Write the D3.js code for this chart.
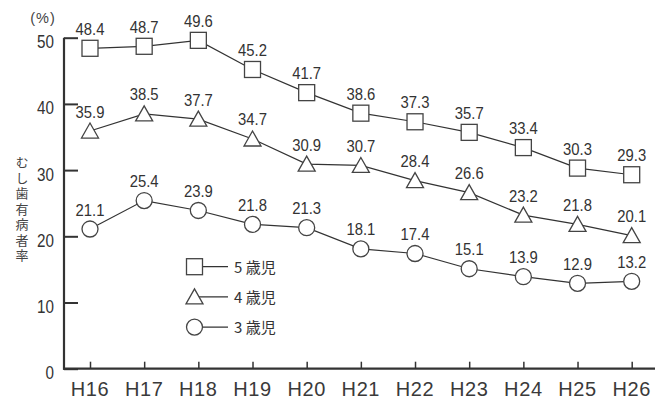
<!DOCTYPE html>
<html><head><meta charset="utf-8">
<script src="https://cdn.jsdelivr.net/npm/d3@7"></script>
<style>body{margin:0;background:#fff}svg{display:block}</style>
</head><body>
<svg id="c" width="655" height="404"></svg>
<script>
const categories = ["H16","H17","H18","H19","H20","H21","H22","H23","H24","H25","H26"];
const age5 = [48.4,48.7,49.6,45.2,41.7,38.6,37.3,35.7,33.4,30.3,29.3];
const age4 = [35.9,38.5,37.7,34.7,30.9,30.7,28.4,26.6,23.2,21.8,20.1];
const age3 = [21.1,25.4,23.9,21.8,21.3,18.1,17.4,15.1,13.9,12.9,13.2];
const yTicks = [0,10,20,30,40,50];
const seriesNames = ["5 歳児","4 歳児","3 歳児"];
const symbols = ["square","triangle","circle"];

const svg = d3.select("#c");
const font = "'Liberation Sans', Arial, sans-serif";
const x = d3.scalePoint().domain(categories).range([90, 631.7]);
const y = d3.scaleLinear().domain([0,50]).range([368.7, 37.7]);
const ink = "#333";

// axes
const yAxis = d3.axisRight(y).tickValues(yTicks).tickSize(14).tickFormat("");
const gy = svg.append("g").attr("transform","translate(64,0)").call(yAxis);
gy.select(".domain").remove();
gy.selectAll(".tick line").attr("stroke",ink).attr("stroke-width",2);
svg.append("line").attr("x1",64).attr("x2",64).attr("y1",y(50)).attr("y2",y(0)+1).attr("stroke",ink).attr("stroke-width",2.2);
svg.append("line").attr("x1",63).attr("x2",655).attr("y1",y(0)).attr("y2",y(0)).attr("stroke",ink).attr("stroke-width",2.2);

svg.append("g").selectAll("text").data(yTicks).join("text")
  .attr("transform",d=>`translate(54,${y(d)+10.5}) scale(0.95,1.1)`).attr("text-anchor","end")
  .attr("font-family",font).attr("font-size",16).attr("fill",ink).text(d=>d);

const xAxis = d3.axisTop(x).tickSize(7).tickFormat("");
const gx = svg.append("g").attr("transform",`translate(0,${y(0)})`).call(xAxis);
gx.select(".domain").remove();
gx.selectAll(".tick line").attr("stroke",ink).attr("stroke-width",1.5);
svg.append("g").selectAll("text").data(categories).join("text")
  .attr("x",d=>x(d)).attr("y",396).attr("text-anchor","middle").attr("letter-spacing",0.6)
  .attr("font-family",font).attr("font-size",20).attr("fill","#3a3a3a").text(d=>d);

svg.append("text").attr("x",43).attr("y",23).attr("text-anchor","middle").attr("letter-spacing",1)
  .attr("font-family",font).attr("font-size",14.5).attr("fill","#444").text("(%)");

// vertical title
svg.append("text").attr("x",22).attr("y",156)
  .style("writing-mode","vertical-rl").style("text-orientation","upright")
  .attr("letter-spacing",2.5)
  .attr("font-family","'Noto Sans CJK JP', sans-serif").attr("font-size",13).attr("fill","#444")
  .text("むし歯有病者率");

function drawSym(g, type, cx, cy){
  const st = {fill:"#fff", stroke:"#444", "stroke-width":1.3};
  let el;
  if(type==="square"){
    el = g.append("rect").attr("x",cx-8).attr("y",cy-8).attr("width",16).attr("height",16);
  } else if(type==="triangle"){
    el = g.append("path").attr("d",`M${cx},${cy-8}L${cx+8.5},${cy+7}L${cx-8.5},${cy+7}Z`);
  } else {
    el = g.append("circle").attr("cx",cx).attr("cy",cy).attr("r",8);
  }
  for(const k in st) el.attr(k, st[k]);
}

const data = [age5, age4, age3];
const line = d3.line().x((d,i)=>x(categories[i])).y(d=>y(d));
data.forEach((vals, s)=>{
  const g = svg.append("g");
  g.append("path").datum(vals).attr("d",line).attr("fill","none").attr("stroke",ink).attr("stroke-width",1.2);
  vals.forEach((v,i)=>drawSym(g, symbols[s], x(categories[i]), y(v)));
  g.selectAll("text").data(vals).join("text")
    .attr("transform",(d,i)=>`translate(${x(categories[i])},${y(d)-13.5}) scale(0.9,1)`)
    .attr("text-anchor","middle").attr("font-family",font).attr("font-size",16.5)
    .attr("fill",ink).text(d=>d.toFixed(1));
});

// legend
const lg = svg.append("g");
seriesNames.forEach((n,i)=>{
  const cy = 266.7 + i*30.2;
  lg.append("line").attr("x1",194).attr("x2",228).attr("y1",cy).attr("y2",cy).attr("stroke",ink).attr("stroke-width",1.2);
  drawSym(lg, symbols[i], 194.5, cy);
  lg.append("text").attr("x",234).attr("y",cy+6).attr("font-family","'Noto Sans CJK JP', sans-serif")
    .attr("font-size",15).attr("fill",ink).text(n);
});
</script>
</body></html>
